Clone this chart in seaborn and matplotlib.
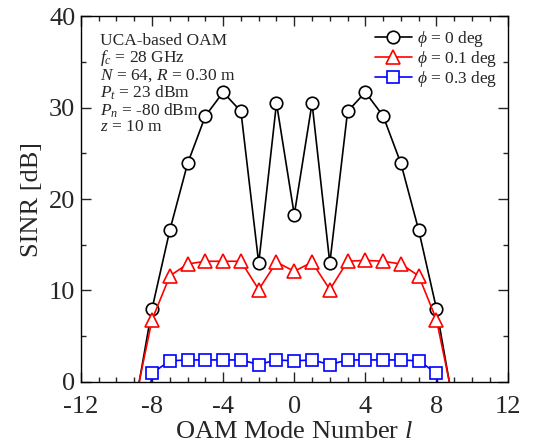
import numpy as np
import pandas as pd
import matplotlib
matplotlib.use("Agg")
import matplotlib.pyplot as plt
import seaborn as sns
from matplotlib.ticker import MultipleLocator

# OAM mode numbers and SINR [dB] for three misalignment angles
modes = list(range(-9, 10))
sinr_phi0 = [-3.1, 8.0, 16.6, 23.9, 29.1, 31.7, 29.6, 13.0, 30.5, 18.3,
             30.5, 13.0, 29.6, 31.7, 29.1, 23.9, 16.6, 8.0, -3.1]
sinr_phi01 = [-2.6, 6.8, 11.6, 12.9, 13.2, 13.2, 13.2, 10.1, 13.1, 12.1,
              13.1, 10.1, 13.2, 13.3, 13.2, 12.9, 11.6, 6.8, -2.6]
sinr_phi03 = [-15.0, 0.95, 2.3, 2.4, 2.4, 2.4, 2.4, 1.9, 2.4, 2.3,
              2.4, 1.9, 2.4, 2.4, 2.4, 2.4, 2.3, 0.95, -15.0]
series_labels = [r"$\phi$ = 0 deg", r"$\phi$ = 0.1 deg", r"$\phi$ = 0.3 deg"]
x_ticks = [-12, -8, -4, 0, 4, 8, 12]
y_ticks = [0, 10, 20, 30, 40]
info_lines = [
    "UCA-based OAM",
    r"$f_c$ = 28 GHz",
    r"$N$ = 64, $R$ = 0.30 m",
    r"$P_t$ = 23 dBm",
    r"$P_n$ = -80 dBm",
    r"$z$ = 10 m",
]

sns.set_style("ticks")
plt.rcParams["font.family"] = ["Liberation Serif", "DejaVu Serif"]
plt.rcParams["mathtext.fontset"] = "custom"
plt.rcParams["mathtext.rm"] = "Liberation Serif"
plt.rcParams["mathtext.it"] = "Liberation Serif:italic"
plt.rcParams["mathtext.bf"] = "Liberation Serif:bold"

fig = plt.figure(figsize=(5.36, 4.43), dpi=100)
ax = fig.add_axes([0.151, 0.138, 0.796, 0.825])

styles = [("black", "o", 9.0), ("red", "^", 9.5), ("blue", "s", 8.5)]
for vals, label, (color, marker, ms) in zip(
        [sinr_phi0, sinr_phi01, sinr_phi03], series_labels, styles):
    df = pd.DataFrame({"l": modes, "sinr": vals})
    sns.lineplot(data=df, x="l", y="sinr", ax=ax, color=color, lw=1.2,
                 marker=marker, markersize=ms, markerfacecolor="white",
                 markeredgecolor=color, markeredgewidth=1.2, label=label,
                 clip_on=True)

ax.set_xlim(-12, 12)
ax.set_ylim(0, 40)
ax.set_xticks(x_ticks)
ax.set_xticklabels([str(t) for t in x_ticks])
ax.set_yticks(y_ticks)
ax.xaxis.set_minor_locator(MultipleLocator(1))
ax.yaxis.set_minor_locator(MultipleLocator(5))
ax.tick_params(which="both", direction="in", top=True, right=True,
               labelsize=19, width=1.0)
ax.tick_params(axis="x", which="major", pad=10)
ax.tick_params(axis="y", which="major", pad=4)
ax.tick_params(which="major", length=7)
ax.tick_params(which="minor", length=3.5)
for sp in ax.spines.values():
    sp.set_linewidth(1.0)
    sp.set_color("black")

ax.set_xlabel(r"OAM Mode Number $l$", fontsize=19, labelpad=2)
ax.set_ylabel("SINR [dB]", fontsize=19, labelpad=4)

leg = ax.legend(loc="upper right", fontsize=12.5, frameon=False,
                handlelength=2.1, handletextpad=0.3, labelspacing=0.0,
                borderaxespad=0.2, bbox_to_anchor=(1.0, 0.995))

ax.text(0.045, 0.955, "\n".join(info_lines), transform=ax.transAxes,
        ha="left", va="top", fontsize=12.5, linespacing=0.95)

fig.savefig("out.png", dpi=100)
